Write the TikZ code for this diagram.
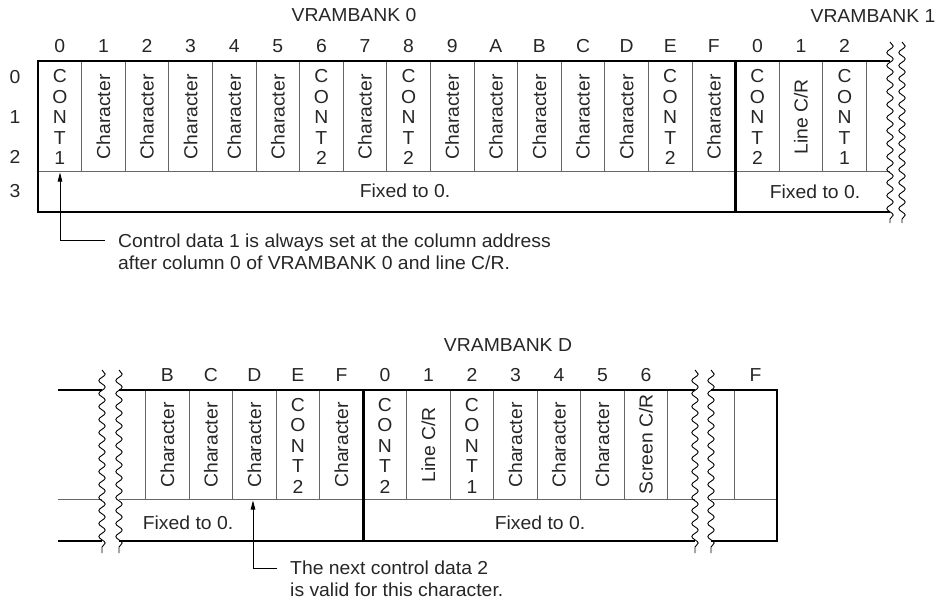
\documentclass[tikz,border=0pt]{standalone}
\usepackage{fontspec}
\setmainfont{Liberation Sans}[FakeStretch=1.03]
\usetikzlibrary{arrows.meta,decorations.pathmorphing}
\begin{document}
\begin{tikzpicture}[x=1pt,y=-1pt,
  thickline/.style={line width=2.8pt, line cap=butt},
  thinline/.style={line width=0.9pt, draw=black!60},
  lbl/.style={inner sep=0pt, text=black!85, font=\fontsize{18.8}{20.5}\selectfont},
  vlbl/.style={lbl, rotate=90},
  cont/.style={lbl, align=center},
  note/.style={inner sep=0pt, text=black!85, align=left, font=\fontsize{18.8}{22}\selectfont},
  wavy/.style={line width=0.9pt, decorate, decoration={snake, amplitude=3.2pt, segment length=13pt}},
  pointer/.style={line width=0.8pt, -{Triangle[length=9pt,width=4.5pt]}},
]
\useasboundingbox (0,0) rectangle (939,605);

% ---------------- top diagram ----------------
\foreach \i in {1,...,15,17,18,19}
  \draw[thinline] ({38+43.6*\i},61) -- ({38+43.6*\i},171);
\draw[thinline] (38,171) -- (890,171);
\draw[thickline] (890,61) -- (38,61) -- (38,212) -- (890,212);
\draw[thickline] (735.6,61) -- (735.6,212);
\draw[wavy] (890,42) -- (890,223);
\draw[wavy] (902,42) -- (902,223);

\node[lbl] (bank0) at (354,15) {VRAMBANK 0};
\node[lbl] (bank1) at (873,16) {VRAMBANK 1};
\foreach \l [count=\i from 0] in {0,1,2,3,4,5,6,7,8,9,A,B,C,D,E,F,0,1,2}
  \node[lbl] (tc\i) at ({38+43.6*(\i+0.5)},46) {\l};
\foreach \l/\y [count=\i from 0] in {0/77,1/117,2/157,3/191}
  \node[lbl] (tr\i) at (15,\y) {\l};

\foreach \i in {1,2,3,4,5,7,9,10,11,12,13,15}
  \node[vlbl] (tchar\i) at ({38+43.6*(\i+0.5)},117) {Character};
\foreach \i/\d in {0/1,6/2,8/2,14/2,16/2,18/1}
  \node[cont] (tcont\i) at ({38+43.6*(\i+0.5)},117) {C\\O\\N\\T\\\d};
\node[vlbl] (tline) at ({38+43.6*17.5},117) {Line C/R};

\node[lbl] (tfix0) at (405,191) {Fixed to 0.};
\node[lbl] (tfix1) at (815,192) {Fixed to 0.};

\coordinate (ta) at (60,172.5);
\coordinate (tcorner) at (60,240);
\coordinate (tend) at (105,240);
\draw[pointer] (tend) -- (tcorner) -- (ta);
\node[note, anchor=west] (tnote) at (118,252)
  {Control data 1 is always set at the column address\\after column 0 of VRAMBANK 0 and line C/R.};

% ---------------- bottom diagram ----------------
\foreach \x in {145.7,189.2,232.7,276.2,319.7,406.7,450.2,493.7,537.2,580.7,624.2,667.7,734.3}
  \draw[thinline] (\x,390) -- (\x,499);
\draw[thinline] (58,499) -- (102,499);
\draw[thinline] (119,499) -- (695,499);
\draw[thinline] (711,499) -- (777,499);
\draw[thickline] (58,390) -- (102,390);
\draw[thickline] (119,390) -- (695,390);
\draw[thickline] (711,390) -- (777,390) -- (777,541) -- (711,541);
\draw[thickline] (695,541) -- (119,541);
\draw[thickline] (102,541) -- (58,541);
\draw[thickline] (363.2,390) -- (363.2,541);
\draw[wavy] (102,370) -- (102,553);
\draw[wavy] (119,370) -- (119,553);
\draw[wavy] (695,370) -- (695,553);
\draw[wavy] (711,370) -- (711,553);

\node[lbl] (bankd) at (508,345) {VRAMBANK D};
\foreach \l [count=\i from 0] in {B,C,D,E,F,0,1,2,3,4,5,6}
  \node[lbl] (bc\i) at ({145.7+43.5*(\i+0.5)},375) {\l};
\node[lbl] (bcf) at (755.5,375) {F};

\foreach \i in {0,1,2,4,8,9,10}
  \node[vlbl] (bchar\i) at ({145.7+43.5*(\i+0.5)},445) {Character};
\foreach \i/\d in {3/2,5/2,7/1}
  \node[cont] (bcont\i) at ({145.7+43.5*(\i+0.5)},445.5) {C\\O\\N\\T\\\d};
\node[vlbl] (bline) at ({145.7+43.5*6.5},445) {Line C/R};
\node[vlbl] (bscreen) at ({145.7+43.5*11.5},444.5) {Screen C/R};

\node[lbl] (bfix0) at (188,523) {Fixed to 0.};
\node[lbl] (bfix1) at (540,523) {Fixed to 0.};

\coordinate (ba) at (253,500.5);
\coordinate (bcorner) at (253,568);
\coordinate (bend) at (277,568);
\draw[pointer] (bend) -- (bcorner) -- (ba);
\node[note, anchor=west] (bnote) at (290,579)
  {The next control data 2\\is valid for this character.};
\end{tikzpicture}
\end{document}
